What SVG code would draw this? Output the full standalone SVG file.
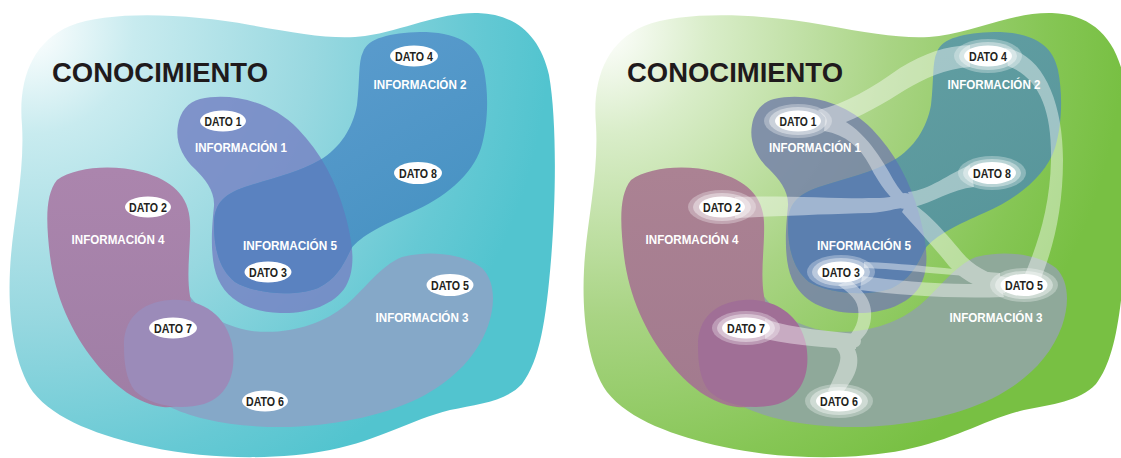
<svg xmlns="http://www.w3.org/2000/svg" xmlns:xlink="http://www.w3.org/1999/xlink" width="1121" height="458" viewBox="0 0 1121 458">
  <defs>
    <style>
      .title { font-family: "Liberation Sans", Arial, sans-serif; font-weight: 700; font-size: 28px; fill: #1f1a1c; }
      .info  { font-family: "Liberation Sans", Arial, sans-serif; font-weight: 700; font-size: 12.5px; fill: #ffffff; text-anchor: middle; }
      .dato  { font-family: "Liberation Sans", Arial, sans-serif; font-weight: 700; font-size: 12.5px; fill: #231f20; text-anchor: middle; }
      .pill  { fill: #ffffff; }
      .halo1 { fill: #ffffff; opacity: 0.3; }
      .halo2 { fill: #ffffff; opacity: 0.4; }
      .band  { fill: #ffffff; }
    </style>

    <!-- background washes: white in the upper-left corner fading outward -->
    <radialGradient id="bgTeal" gradientUnits="userSpaceOnUse" cx="30" cy="30" r="520">
      <stop offset="0" stop-color="#ffffff"/>
      <stop offset="0.2" stop-color="#c8ebef"/>
      <stop offset="0.55" stop-color="#98d8e0"/>
      <stop offset="0.85" stop-color="#66c9d4"/>
      <stop offset="1" stop-color="#52c4cf"/>
    </radialGradient>
    <radialGradient id="bgGreen" gradientUnits="userSpaceOnUse" cx="30" cy="30" r="520">
      <stop offset="0" stop-color="#ffffff"/>
      <stop offset="0.2" stop-color="#d9edc9"/>
      <stop offset="0.55" stop-color="#a9d484"/>
      <stop offset="0.85" stop-color="#86c655"/>
      <stop offset="1" stop-color="#78c043"/>
    </radialGradient>
    <linearGradient id="info4L" gradientUnits="userSpaceOnUse" x1="0" y1="170" x2="0" y2="410">
      <stop offset="0" stop-color="#ab85ad"/>
      <stop offset="1" stop-color="#9f7ea5"/>
    </linearGradient>
    <linearGradient id="info4R" gradientUnits="userSpaceOnUse" x1="0" y1="170" x2="0" y2="410">
      <stop offset="0" stop-color="#ab8293"/>
      <stop offset="1" stop-color="#a27a8e"/>
    </linearGradient>
    <linearGradient id="info2L" gradientUnits="userSpaceOnUse" x1="360" y1="30" x2="480" y2="230">
      <stop offset="0" stop-color="#5a9bcd"/>
      <stop offset="1" stop-color="#4692c2"/>
    </linearGradient>
    <linearGradient id="info2R" gradientUnits="userSpaceOnUse" x1="360" y1="30" x2="480" y2="230">
      <stop offset="0" stop-color="#619ea2"/>
      <stop offset="1" stop-color="#57959a"/>
    </linearGradient>

    <!-- shared outlines, drawn in panel coordinates -->
    <path id="outer" d="M 22,125 C 18,80 32,42 70,26 C 110,10 190,14 250,25 C 300,34 335,40 365,36 C 405,30 440,12 478,13 C 515,14 540,35 549,75 C 557,120 556,200 551,260 C 546,320 540,360 522,384 C 505,402 478,404 450,410 C 410,420 380,440 330,450 C 280,460 210,460 150,447 C 100,436 55,420 33,392 C 12,362 8,310 10,270 C 12,225 25,175 22,125 Z"/>
    <path id="shape3" d="M 185,290 C 200,312 222,326 252,331 C 287,335 322,325 346,305 C 366,288 380,266 402,257 C 432,249 466,255 482,268 C 496,282 495,306 488,326 C 477,356 455,378 425,395 C 390,414 340,425 290,427 C 240,428 195,420 168,406 C 145,393 140,360 150,330 C 158,305 172,283 185,290 Z"/>
    <path id="shape4" d="M 57,180 C 75,167 112,164 142,172 C 172,180 189,196 190,222 C 191,246 186,272 190,296 C 195,322 200,346 200,370 C 200,396 184,409 163,407 C 138,404 114,386 95,362 C 71,332 55,296 50,256 C 46,222 45,195 57,180 Z"/>
    <path id="shape7" d="M 124,347 C 123,320 140,302 170,300 C 201,298 226,315 232,344 C 237,371 229,396 204,404 C 178,411 150,405 135,391 C 126,380 124,362 124,347 Z"/>
    <path id="shape1" d="M 200,99 C 232,92 272,102 298,129 C 321,153 336,181 345,214 C 352,240 357,266 346,286 C 334,306 306,314 280,313 C 250,312 228,301 218,279 C 209,258 212,226 214,206 C 215,191 205,179 195,169 C 182,157 175,141 178,125 C 180,112 188,102 200,99 Z"/>
    <path id="shape2" d="M 363,52 C 368,38 390,33 420,32 C 455,32 478,42 484,70 C 489,95 488,125 481,148 C 472,175 445,198 410,213 C 385,224 360,236 351,249 C 344,263 338,278 318,288 C 295,297 255,294 235,282 C 220,270 214,250 214,225 C 214,205 222,195 245,187 C 270,179 300,172 320,160 C 340,148 353,128 357,105 C 360,80 358,62 363,52 Z"/>

    <clipPath id="clip1" clipPathUnits="userSpaceOnUse">
      <use xlink:href="#shape1" href="#shape1"/>
    </clipPath>
  </defs>

  <!-- ===================== left panel ===================== -->
  <g id="panel-left">
    <use id="conocimiento-left" href="#outer" xlink:href="#outer" fill="url(#bgTeal)"/>
    <text class="title" x="52" y="82" textLength="216" lengthAdjust="spacingAndGlyphs">CONOCIMIENTO</text>

    <g id="informacion-3-left">
      <use href="#shape3" xlink:href="#shape3" fill="#85a8c8"/>
      <text class="info" x="422" y="322" textLength="93" lengthAdjust="spacingAndGlyphs">INFORMACIÓN 3</text>
    </g>
    <g id="informacion-4-left">
      <use href="#shape4" xlink:href="#shape4" fill="url(#info4L)"/>
      <text class="info" x="118" y="244" textLength="93" lengthAdjust="spacingAndGlyphs">INFORMACIÓN 4</text>
    </g>
    <g id="dato7-area-left">
      <use href="#shape7" xlink:href="#shape7" fill="#9b8bb9"/>
    </g>
    <g id="informacion-1-left">
      <use href="#shape1" xlink:href="#shape1" fill="#7585c4" fill-opacity="0.85"/>
      <text class="info" x="241" y="152" textLength="92" lengthAdjust="spacingAndGlyphs">INFORMACIÓN 1</text>
    </g>
    <g id="informacion-2-left">
      <use href="#shape2" xlink:href="#shape2" fill="url(#info2L)"/>
      <use href="#shape2" xlink:href="#shape2" fill="#5a82c0" clip-path="url(#clip1)"/>
      <text class="info" x="420" y="89" textLength="93" lengthAdjust="spacingAndGlyphs">INFORMACIÓN 2</text>
    </g>
    <g id="informacion-5-left">
      <text class="info" x="290" y="250" textLength="94" lengthAdjust="spacingAndGlyphs">INFORMACIÓN 5</text>
    </g>

    <g id="dato-1-left"><ellipse class="pill" cx="223" cy="121" rx="23" ry="10.5"/><text class="dato" x="223" y="125.5" textLength="37" lengthAdjust="spacingAndGlyphs">DATO 1</text></g>
    <g id="dato-2-left"><ellipse class="pill" cx="148" cy="207" rx="23" ry="10.5"/><text class="dato" x="148" y="211.5" textLength="38" lengthAdjust="spacingAndGlyphs">DATO 2</text></g>
    <g id="dato-3-left"><ellipse class="pill" cx="268" cy="272" rx="23.5" ry="10.5"/><text class="dato" x="268" y="276.5" textLength="38" lengthAdjust="spacingAndGlyphs">DATO 3</text></g>
    <g id="dato-4-left"><ellipse class="pill" cx="414" cy="56" rx="24" ry="10.5"/><text class="dato" x="414" y="60.5" textLength="38" lengthAdjust="spacingAndGlyphs">DATO 4</text></g>
    <g id="dato-5-left"><ellipse class="pill" cx="450" cy="285" rx="23.5" ry="11"/><text class="dato" x="450" y="289.5" textLength="38" lengthAdjust="spacingAndGlyphs">DATO 5</text></g>
    <g id="dato-6-left"><ellipse class="pill" cx="265" cy="401" rx="23" ry="10.5"/><text class="dato" x="265" y="405.5" textLength="38" lengthAdjust="spacingAndGlyphs">DATO 6</text></g>
    <g id="dato-7-left"><ellipse class="pill" cx="173" cy="328" rx="24" ry="10.5"/><text class="dato" x="173" y="332.5" textLength="38" lengthAdjust="spacingAndGlyphs">DATO 7</text></g>
    <g id="dato-8-left"><ellipse class="pill" cx="418" cy="173" rx="24" ry="11"/><text class="dato" x="418" y="177.5" textLength="38" lengthAdjust="spacingAndGlyphs">DATO 8</text></g>
  </g>

  <!-- ===================== right panel ===================== -->
  <g id="panel-right" transform="translate(574,0)">
    <use id="conocimiento-right" href="#outer" xlink:href="#outer" fill="url(#bgGreen)"/>
    <text class="title" x="53" y="82" textLength="216" lengthAdjust="spacingAndGlyphs">CONOCIMIENTO</text>

    <g id="informacion-3-right">
      <use href="#shape3" xlink:href="#shape3" fill="#8fa99a"/>
      <text class="info" x="422" y="322" textLength="93" lengthAdjust="spacingAndGlyphs">INFORMACIÓN 3</text>
    </g>
    <g id="informacion-4-right">
      <use href="#shape4" xlink:href="#shape4" fill="url(#info4R)"/>
      <text class="info" x="118" y="244" textLength="93" lengthAdjust="spacingAndGlyphs">INFORMACIÓN 4</text>
    </g>
    <g id="dato7-area-right">
      <use href="#shape7" xlink:href="#shape7" fill="#a06f96"/>
    </g>
    <g id="informacion-1-right">
      <use href="#shape1" xlink:href="#shape1" fill="#7683a8" fill-opacity="0.85"/>
      <text class="info" x="241" y="152" textLength="92" lengthAdjust="spacingAndGlyphs">INFORMACIÓN 1</text>
    </g>
    <g id="informacion-2-right">
      <use href="#shape2" xlink:href="#shape2" fill="url(#info2R)"/>
      <use href="#shape2" xlink:href="#shape2" fill="#5b7faf" clip-path="url(#clip1)"/>
      <text class="info" x="420" y="89" textLength="93" lengthAdjust="spacingAndGlyphs">INFORMACIÓN 2</text>
    </g>
    <g id="informacion-5-right">
      <text class="info" x="290" y="250" textLength="94" lengthAdjust="spacingAndGlyphs">INFORMACIÓN 5</text>
    </g>
  </g>

  <!-- links between the data items (right panel, page coordinates); one shared
       opacity so that crossings and junctions do not build up -->
  <g id="connectors" opacity="0.42">
    <!-- DATO 1 - DATO 4 -->
    <path class="band" d="M 818,110 C 845,104 872,88 900,68 C 925,53 945,46 970,45 L 970,67 C 945,69 925,78 905,90 C 885,103 862,116 834,127 Z"/>
    <!-- DATO 1 - upper junction -->
    <path class="band" d="M 826,113 C 858,122 876,150 889,172 C 895,183 900,191 906,196 L 900,207 C 891,198 880,186 870,166 C 860,147 846,135 824,131 Z"/>
    <!-- DATO 2 - upper junction -->
    <path class="band" d="M 735,197 C 780,195 840,199 875,198 C 888,198 897,196 904,194 L 904,208 C 895,208 888,212 870,213 C 830,214 780,216 735,218 Z"/>
    <!-- upper junction -->
    <ellipse class="band" cx="905" cy="201" rx="9" ry="8"/>
    <!-- upper junction - DATO 8 -->
    <path class="band" d="M 908,192 C 930,190 948,174 970,165 L 974,187 C 952,189 932,203 914,207 Z"/>
    <!-- upper junction - DATO 5 -->
    <path class="band" d="M 908,201 C 928,211 947,235 966,257 C 979,270 995,276 1010,278 L 1005,293 C 985,291 964,283 949,266 C 934,247 916,228 902,212 Z"/>
    <!-- DATO 4 - DATO 5 -->
    <path class="band" d="M 1005,48 C 1042,53 1063,100 1063,160 C 1063,210 1053,250 1039,283 L 1021,283 C 1036,250 1050,210 1051,160 C 1052,112 1040,78 1008,66 Z"/>
    <!-- DATO 3 - DATO 5, double strand -->
    <path class="band" d="M 864,262 C 900,263 950,269 1000,273 L 1000,278 C 950,276 900,269 864,268 Z"/>
    <path class="band" d="M 862,276 C 900,281 950,286 1000,283 L 1004,297 C 950,299 900,295 860,290 Z"/>
    <!-- DATO 3 - lower junction -->
    <path class="band" d="M 850,280 C 862,290 873,300 871,318 C 870,330 864,337 858,342 L 846,339 C 855,331 860,320 858,308 C 856,297 846,291 838,285 Z"/>
    <!-- lower junction -->
    <ellipse class="band" cx="853" cy="341" rx="8" ry="7"/>
    <!-- lower junction - DATO 7 -->
    <path class="band" d="M 765,319 C 795,329 830,331 856,334 L 856,349 C 830,348 800,346 765,339 Z"/>
    <!-- lower junction - DATO 6 -->
    <path class="band" d="M 846,338 C 860,349 860,366 852,379 C 847,387 844,391 842,394 L 828,391 C 832,381 838,371 840,361 C 842,352 836,347 830,344 Z"/>
  </g>

  <!-- right panel data items, with their glow -->
  <g id="dato-1-right"><ellipse class="halo1" cx="798" cy="121" rx="34" ry="17"/><ellipse class="halo2" cx="798" cy="121" rx="29" ry="14"/><ellipse class="pill" cx="798" cy="121" rx="23" ry="10.5"/><text class="dato" x="798" y="125.5" textLength="37" lengthAdjust="spacingAndGlyphs">DATO 1</text></g>
  <g id="dato-2-right"><ellipse class="halo1" cx="722" cy="207" rx="34" ry="17"/><ellipse class="halo2" cx="722" cy="207" rx="29" ry="14"/><ellipse class="pill" cx="722" cy="207" rx="23" ry="10.5"/><text class="dato" x="722" y="211.5" textLength="38" lengthAdjust="spacingAndGlyphs">DATO 2</text></g>
  <g id="dato-3-right"><ellipse class="halo1" cx="841" cy="272" rx="34" ry="17"/><ellipse class="halo2" cx="841" cy="272" rx="29" ry="14"/><ellipse class="pill" cx="841" cy="272" rx="23.5" ry="10.5"/><text class="dato" x="841" y="276.5" textLength="38" lengthAdjust="spacingAndGlyphs">DATO 3</text></g>
  <g id="dato-4-right"><ellipse class="halo1" cx="988" cy="56" rx="34" ry="17"/><ellipse class="halo2" cx="988" cy="56" rx="29" ry="14"/><ellipse class="pill" cx="988" cy="56" rx="24" ry="10.5"/><text class="dato" x="988" y="60.5" textLength="38" lengthAdjust="spacingAndGlyphs">DATO 4</text></g>
  <g id="dato-5-right"><ellipse class="halo1" cx="1024" cy="285" rx="34" ry="17"/><ellipse class="halo2" cx="1024" cy="285" rx="29" ry="14"/><ellipse class="pill" cx="1024" cy="285" rx="23.5" ry="11"/><text class="dato" x="1024" y="289.5" textLength="38" lengthAdjust="spacingAndGlyphs">DATO 5</text></g>
  <g id="dato-6-right"><ellipse class="halo1" cx="839" cy="401" rx="34" ry="17"/><ellipse class="halo2" cx="839" cy="401" rx="29" ry="14"/><ellipse class="pill" cx="839" cy="401" rx="23" ry="10.5"/><text class="dato" x="839" y="405.5" textLength="38" lengthAdjust="spacingAndGlyphs">DATO 6</text></g>
  <g id="dato-7-right"><ellipse class="halo1" cx="746" cy="328" rx="34" ry="17"/><ellipse class="halo2" cx="746" cy="328" rx="29" ry="14"/><ellipse class="pill" cx="746" cy="328" rx="24" ry="10.5"/><text class="dato" x="746" y="332.5" textLength="38" lengthAdjust="spacingAndGlyphs">DATO 7</text></g>
  <g id="dato-8-right"><ellipse class="halo1" cx="992" cy="173" rx="34" ry="17"/><ellipse class="halo2" cx="992" cy="173" rx="29" ry="14"/><ellipse class="pill" cx="992" cy="173" rx="24" ry="11"/><text class="dato" x="992" y="177.5" textLength="38" lengthAdjust="spacingAndGlyphs">DATO 8</text></g>
</svg>
